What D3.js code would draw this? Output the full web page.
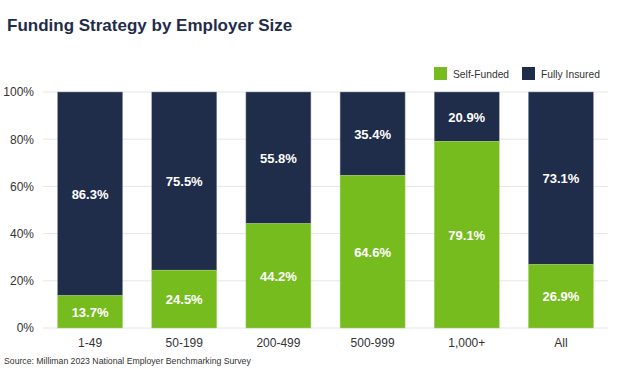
<!DOCTYPE html>
<html><head><meta charset="utf-8">
<script src="https://cdn.jsdelivr.net/npm/d3@7"></script>
<style>body{margin:0;background:#fff;font-family:Arial,"Liberation Sans",sans-serif;}</style>
</head><body><svg id="c" width="640" height="375"></svg>
<script>
const categories = ["1-49","50-199","200-499","500-999","1,000+","All"];
const selfFunded = [13.7,24.5,44.2,64.6,79.1,26.9];
const fullyInsured = [86.3,75.5,55.8,35.4,20.9,73.1];
const yTicks = [0,20,40,60,80,100];
const seriesNames = ["Self-Funded","Fully Insured"];
const colors = ["#77bc1f","#1f2d4a"];

const svg = d3.select("#c");
const m = {l:43, r:608, t:92, b:328};
const x = d3.scaleBand().domain(categories).range([m.l, m.r]).paddingInner(0.31).paddingOuter(0.155);
const y = d3.scaleLinear().domain([0,100]).range([m.b, m.t]);

svg.append("text").attr("x",7).attr("y",31).attr("font-size",17).attr("font-weight","bold")
  .attr("fill","#1f2d4a").text("Funding Strategy by Employer Size");

svg.append("g").selectAll("line").data(yTicks).join("line")
  .attr("x1",m.l).attr("x2",m.r).attr("y1",d=>y(d)).attr("y2",d=>y(d))
  .attr("stroke","#e6e6e6").attr("stroke-width",1);

const yAxis = d3.axisLeft(y).tickValues(yTicks).tickFormat(d=>d+"%").tickSize(0).tickPadding(9);
const gy = svg.append("g").attr("transform",`translate(${m.l},0)`).call(yAxis);
gy.select(".domain").remove();
gy.selectAll("text").attr("font-size",12).attr("fill","#333").attr("font-family","Arial, 'Liberation Sans', sans-serif");

const xAxis = d3.axisBottom(x).tickSize(0).tickPadding(10);
const gx = svg.append("g").attr("transform",`translate(0,${m.b})`).call(xAxis);
gx.select(".domain").remove();
gx.selectAll("text").attr("font-size",12).attr("fill","#333").attr("font-family","Arial, 'Liberation Sans', sans-serif");

const data = categories.map((c,i)=>({cat:c, sf:selfFunded[i], fi:fullyInsured[i]}));
const g = svg.append("g");
data.forEach(d=>{
  const bw = x.bandwidth(), bx = x(d.cat);
  g.append("rect").attr("x",bx).attr("width",bw).attr("y",y(100)).attr("height",y(d.sf)-y(100))
    .attr("fill",colors[1]).attr("stroke","#8a93a5").attr("stroke-width",0.5);
  g.append("rect").attr("x",bx).attr("width",bw).attr("y",y(d.sf)).attr("height",y(0)-y(d.sf))
    .attr("fill",colors[0]).attr("stroke","#a9d36f").attr("stroke-width",0.5);
  g.append("text").attr("x",bx+bw/2).attr("y",(y(0)+y(d.sf))/2+5).attr("text-anchor","middle")
    .attr("font-size",13).attr("font-weight","bold").attr("fill","#fff").text(d.sf.toFixed(1)+"%");
  g.append("text").attr("x",bx+bw/2).attr("y",(y(100)+y(d.sf))/2+5).attr("text-anchor","middle")
    .attr("font-size",13).attr("font-weight","bold").attr("fill","#fff").text(d.fi.toFixed(1)+"%");
});

const lg = svg.append("g");
const lx = [434, 522];
seriesNames.forEach((s,i)=>{
  lg.append("rect").attr("x",lx[i]).attr("y",67).attr("width",13).attr("height",13).attr("fill",colors[i]);
  lg.append("text").attr("x",lx[i]+19).attr("y",77.5).attr("font-size",10.3).attr("fill","#333").text(s);
});

svg.append("text").attr("x",4).attr("y",364).attr("font-size",8.7).attr("fill","#333")
  .text("Source: Milliman 2023 National Employer Benchmarking Survey");
</script></body></html>
